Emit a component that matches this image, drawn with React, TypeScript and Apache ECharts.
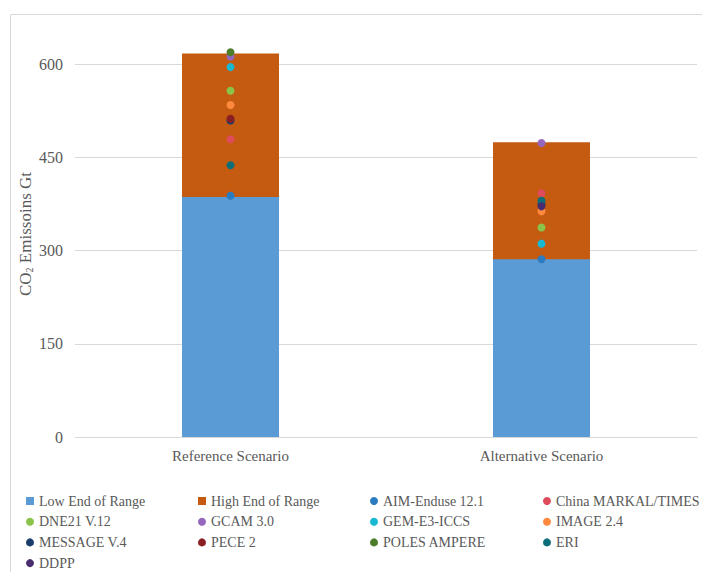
import React, { useEffect, useRef } from "react";
import * as echarts from "echarts";

const categories = ["Reference Scenario", "Alternative Scenario"];
const lowEnd = [386, 286];
const highEnd = [617, 474];

const modelNames = [
  "AIM-Enduse 12.1",
  "China MARKAL/TIMES",
  "DNE21 V.12",
  "GCAM 3.0",
  "GEM-E3-ICCS",
  "IMAGE 2.4",
  "MESSAGE V.4",
  "PECE 2",
  "POLES AMPERE",
  "ERI",
  "DDPP",
];
const modelValues: (number | null)[][] = [
  [388, 286],
  [479, 392],
  [557, 337],
  [612, 473],
  [595, 311],
  [534, 363],
  [509, 375],
  [512, null],
  [619, null],
  [437, 380],
  [null, 371],
];
const modelColors = [
  "#2B7BC0",
  "#DE4B5B",
  "#8BC34A",
  "#9467BD",
  "#17B8D0",
  "#FF8A3D",
  "#1B3D6B",
  "#8B1E22",
  "#4E7D2A",
  "#0D6E7A",
  "#4A2D6E",
];
const yTicks = { min: 0, max: 600, interval: 150 };

const FONT = "Liberation Serif";
const TEXT = "#595959";
const GRID = "#D9D9D9";

export default function App() {
  const ref = useRef<HTMLDivElement>(null);
  useEffect(() => {
    if (!ref.current) return;
    const chart = echarts.init(ref.current, undefined, { renderer: "svg" });

    const scatterSeries = modelNames.map((name, i) => ({
      name,
      type: "scatter",
      symbol: "circle",
      symbolSize: 8,
      clip: false,
      z: 5,
      itemStyle: { color: modelColors[i], opacity: 1 },
      data: modelValues[i],
    }));

    const legendNames = ["Low End of Range", "High End of Range", ...modelNames];
    const columns: string[][] = [[], [], [], []];
    legendNames.forEach((n, i) => columns[i % 4].push(n));
    const colLefts = [26, 198, 370, 543];
    const legends = columns.map((names, ci) => ({
      orient: "vertical",
      left: colLefts[ci],
      top: 494,
      itemWidth: 8,
      itemHeight: 8,
      itemGap: 6.7,
      padding: 0,
      data: names.map((n) => ({
        name: n,
        icon: n.indexOf("Range") >= 0 ? "rect" : "circle",
      })),
      textStyle: { fontFamily: FONT, fontSize: 14, color: TEXT, lineHeight: 14 },
    }));

    chart.setOption({
      animation: false,
      backgroundColor: "#ffffff",
      textStyle: { fontFamily: FONT },
      grid: { left: 75, right: 5, top: 64, bottom: 135, containLabel: false },
      legend: legends,
      xAxis: {
        type: "category",
        data: categories,
        axisLine: { lineStyle: { color: GRID, width: 1 } },
        axisTick: { show: false },
        axisLabel: { fontFamily: FONT, fontSize: 15, color: TEXT, margin: 11 },
      },
      yAxis: {
        type: "value",
        min: yTicks.min,
        max: yTicks.max,
        interval: yTicks.interval,
        axisLine: { show: false },
        axisTick: { show: false },
        splitLine: { lineStyle: { color: GRID, width: 1 } },
        axisLabel: { fontFamily: FONT, fontSize: 16, color: TEXT, margin: 12 },
      },
      graphic: [
        {
          type: "rect",
          shape: { x: 10.5, y: 14.5, width: 800, height: 800 },
          style: { fill: "none", stroke: GRID, lineWidth: 1 },
          silent: true,
          z: -1,
        },
        {
          type: "text",
          x: 25,
          y: 234,
          rotation: Math.PI / 2,
          style: {
            text: "{a|CO}{s|2}{a| Emissoins Gt}",
            textAlign: "center",
            textVerticalAlign: "middle",
            fill: TEXT,
            rich: {
              a: { fontFamily: FONT, fontSize: 17, fill: TEXT, lineHeight: 18 },
              s: {
                fontFamily: FONT,
                fontSize: 10,
                fill: TEXT,
                lineHeight: 18,
                verticalAlign: "bottom",
                padding: [6, 0, 0, 0],
              },
            },
          },
        },
      ],
      series: [
        {
          name: "High End of Range",
          type: "bar",
          barWidth: 97,
          barGap: "-100%",
          clip: false,
          itemStyle: { color: "#C55A11" },
          data: highEnd,
        },
        {
          name: "Low End of Range",
          type: "bar",
          barWidth: 97,
          barGap: "-100%",
          clip: false,
          itemStyle: { color: "#5B9BD5" },
          data: lowEnd,
        },
        ...scatterSeries,
      ],
    });
    return () => chart.dispose();
  }, []);
  return (
    <div
      ref={ref}
      style={{ position: "fixed", left: 0, top: 0, width: 702, height: 572 }}
    />
  );
}
